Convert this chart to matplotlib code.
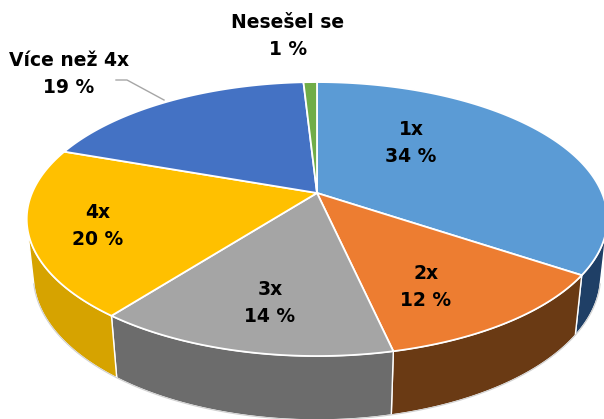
import numpy as np
import matplotlib
matplotlib.use('Agg')
import matplotlib.pyplot as plt

# ---- data (shares read from the slice boundaries; labels show rounded %) ----
labels = ['1x', '2x', '3x', '4x', 'Více než 4x', 'Nesešel se']
values = [34.4, 12.1, 14.0, 19.9, 18.7, 0.9]
pct_labels = ['34 %', '12 %', '14 %', '20 %', '19 %', '1 %']

# ---- styles / positions ----
top_colors = ['#5B9BD5', '#ED7D31', '#A5A5A5', '#FFC000', '#4472C4', '#70AD47']
side_colors = ['#1F3F66', '#6A3A14', '#6C6C6C', '#D6A300', '#2B4A85', '#4A7A2E']
label_pos = [(411, 143), (426, 287), (270, 303), (98, 226), (69, 74), (288, 36)]

W, H = 604, 419
fig = plt.figure(figsize=(W / 100, H / 100), dpi=100)
ax = fig.add_axes([0, 0, 1, 1])
ax.set_xlim(0, W)
ax.set_ylim(H, 0)
ax.axis('off')

# perspective camera
elev = np.deg2rad(27.6)
s, c = np.sin(elev), np.cos(elev)
D = 4.66
F = 1328
cx, cy = 317, 193
h = 0.225


def proj(X, Y, Z):
    depth = D - Y * c - Z * s
    return cx + F * X / depth, cy + F * (Y * s - Z * c) / depth


vals = np.array(values, dtype=float)
bounds = np.concatenate([[0], np.cumsum(vals) / vals.sum()]) * 2 * np.pi

ymin = 1.0 / (D * c)
lo = np.arccos(-ymin)
hi = 2 * np.pi - lo

# walls
for i in range(len(vals)):
    a0, a1 = bounds[i], bounds[i + 1]
    b0, b1 = max(a0, lo), min(a1, hi)
    if b1 <= b0:
        continue
    t = np.linspace(b0, b1, 120)
    X, Y = np.sin(t), -np.cos(t)
    xt, yt = proj(X, Y, 0 * t)
    xb, yb = proj(X, Y, 0 * t - h)
    px = np.concatenate([xt, xb[::-1]])
    py = np.concatenate([yt, yb[::-1]])
    ax.fill(px, py, facecolor=side_colors[i], edgecolor='white', lw=1.0,
            joinstyle='round', zorder=2)

# outline of bottom rim
t = np.linspace(lo, hi, 300)
xb, yb = proj(np.sin(t), -np.cos(t), 0 * t - h)
ax.plot(xb, yb, color='#D0D0D0', lw=0.8, zorder=2.5)

# top faces
for i in range(len(vals)):
    a0, a1 = bounds[i], bounds[i + 1]
    t = np.linspace(a0, a1, max(int(200 * (a1 - a0)), 8))
    X, Y = np.sin(t), -np.cos(t)
    xt, yt = proj(X, Y, 0 * t)
    x0, y0 = proj(0.0, 0.0, 0.0)
    px = np.concatenate([[x0], xt])
    py = np.concatenate([[y0], yt])
    ax.fill(px, py, facecolor=top_colors[i], edgecolor='white', lw=1.3,
            joinstyle='round', zorder=3)

# leader line for "Více než 4x"
ax.plot([116, 127, 164], [80, 80, 100], color='#A6A6A6', lw=1.0, zorder=4)

# labels
for lab, pct, (lx, ly) in zip(labels, pct_labels, label_pos):
    ax.text(lx, ly - 13.5, lab, ha='center', va='center', fontsize=13.5,
            fontweight='bold', family='DejaVu Sans', color='black', zorder=5)
    ax.text(lx, ly + 13.5, pct, ha='center', va='center', fontsize=13.5,
            fontweight='bold', family='DejaVu Sans', color='black', zorder=5)

fig.savefig('out.png', dpi=100)
